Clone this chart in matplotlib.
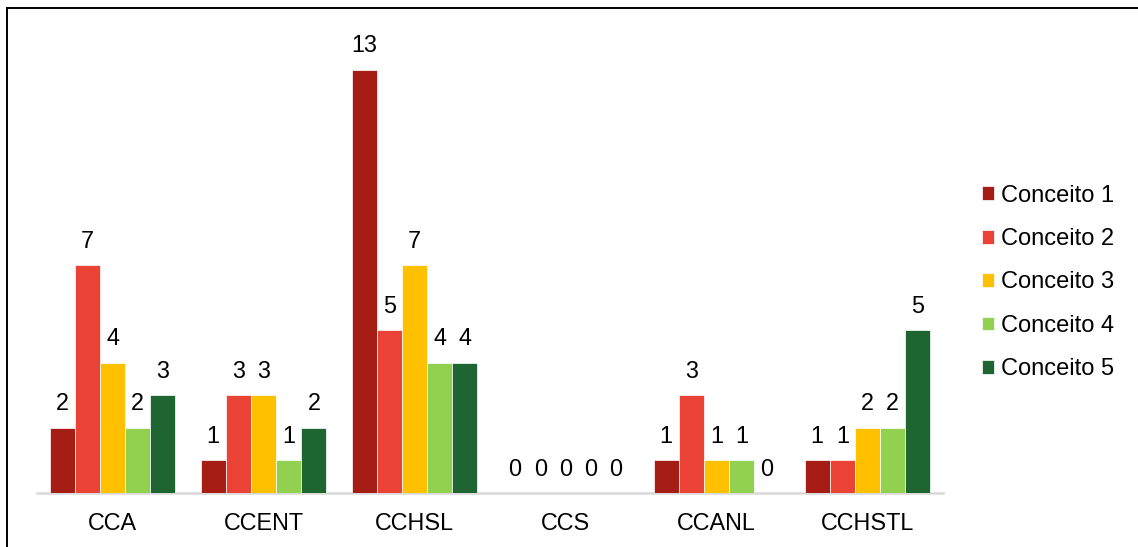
import matplotlib
matplotlib.use("Agg")
import matplotlib.pyplot as plt
import numpy as np
from matplotlib.lines import Line2D

categories = ["CCA", "CCENT", "CCHSL", "CCS", "CCANL", "CCHSTL"]
series_names = ["Conceito 1", "Conceito 2", "Conceito 3", "Conceito 4", "Conceito 5"]
conceito1 = [2, 1, 13, 0, 1, 1]
conceito2 = [7, 3, 5, 0, 3, 1]
conceito3 = [4, 3, 7, 0, 1, 2]
conceito4 = [2, 1, 4, 0, 1, 2]
conceito5 = [3, 2, 4, 0, 0, 5]
series = [conceito1, conceito2, conceito3, conceito4, conceito5]
colors = ["#A51D14", "#EA4335", "#FFC000", "#92D050", "#1F6531"]

plt.rcParams['font.family'] = ['Liberation Sans', 'DejaVu Sans']
W, H = 1138, 547
fig = plt.figure(figsize=(W / 100, H / 100), dpi=100)
ax = fig.add_axes([37 / W, 1 - 493 / H, 906 / W, (493 - 37.4) / H])

x = np.arange(len(categories))
bw = 0.834 / 5
for i, (vals, c, name) in enumerate(zip(series, colors, series_names)):
    pos = x + (i - 2) * bw
    ax.bar(pos, vals, bw, color=c, label=name, edgecolor='white', linewidth=0.5, zorder=2)
    for p, v in zip(pos, vals):
        ax.annotate(str(v), (p, v), xytext=(0, 9), textcoords='offset points',
                    ha='center', va='bottom', fontsize=16.8, color='black')

ax.set_xlim(-0.5, len(categories) - 0.5)
ax.set_ylim(0, 14)
ax.set_xticks(x)
ax.set_xticklabels(categories, fontsize=16.8)
ax.tick_params(axis='x', length=0, pad=14)
ax.set_yticks([])
for s in ['top', 'right', 'left']:
    ax.spines[s].set_visible(False)
ax.spines['bottom'].set_color('#D9D9D9')
ax.spines['bottom'].set_linewidth(1.8)
ax.spines['bottom'].set_zorder(1)

leg = fig.legend(loc='center left', bbox_to_anchor=(982 / W, 1 - 282.5 / H), frameon=False,
                 fontsize=17, handlelength=0.52, handleheight=0.52, handletextpad=0.3,
                 labelspacing=0.91, borderaxespad=0, borderpad=0)

fig.add_artist(Line2D([7 / W, 7 / W], [0, 1 - 8 / H], color='black', linewidth=1.4, transform=fig.transFigure))
fig.add_artist(Line2D([7 / W, 1], [1 - 8 / H, 1 - 8 / H], color='black', linewidth=1.4, transform=fig.transFigure))

fig.savefig("out.png", dpi=100, facecolor='white')
